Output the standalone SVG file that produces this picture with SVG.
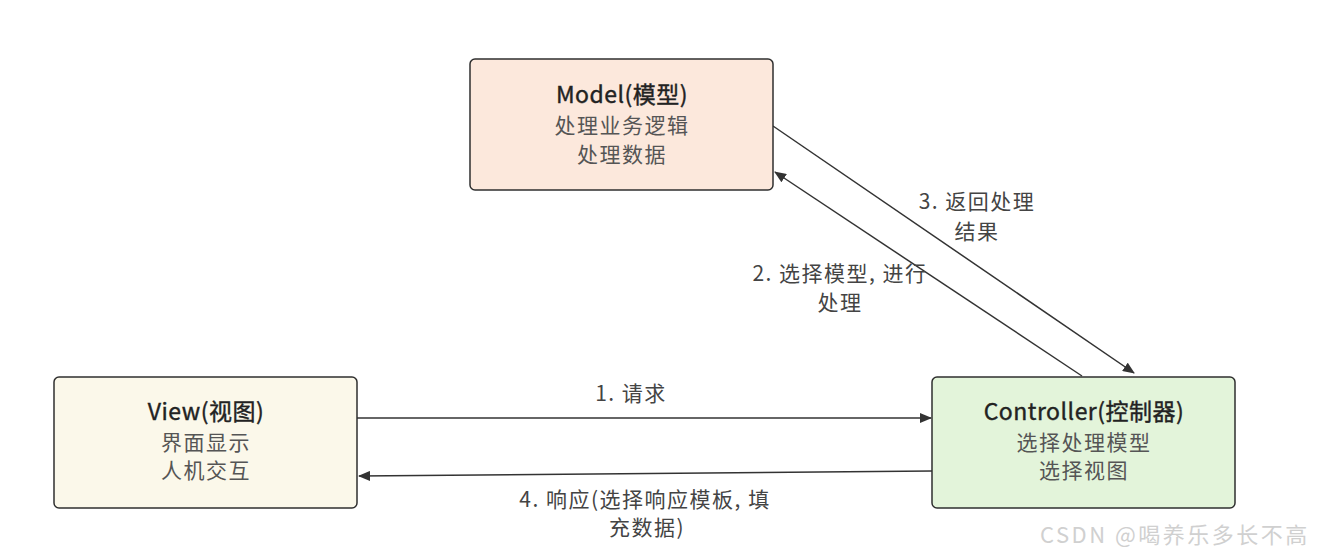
<svg xmlns="http://www.w3.org/2000/svg" width="1317" height="556" viewBox="0 0 1317 556">
  <style>
    .box { stroke: #2f2f2f; stroke-width: 1.5; }
    .title { font-family: "Noto Sans CJK SC", "Noto Sans", sans-serif; font-size: 23px; font-weight: 400; fill: #222; stroke: #222; stroke-width: 0.4; text-anchor: middle; letter-spacing: 0.5px; }
    .body { font-family: "Noto Sans CJK SC", "Noto Sans", sans-serif; font-size: 21px; fill: #555; text-anchor: middle; letter-spacing: 1.5px; }
    .edge { stroke: #333; stroke-width: 1.5; fill: none; marker-end: url(#arrow); }
    .lbl { font-family: "Noto Sans CJK SC", "Noto Sans", sans-serif; font-size: 21px; fill: #444; text-anchor: middle; letter-spacing: 1.5px; }
    .mark { font-family: "Noto Sans CJK SC", "Noto Sans", sans-serif; font-size: 22px; fill: #d0d0d0; letter-spacing: 2.5px; }
  </style>
  <defs>
    <marker id="arrow" viewBox="0 0 12 10" refX="11" refY="5" markerWidth="12" markerHeight="10" markerUnits="userSpaceOnUse" orient="auto">
      <path d="M0,0 L12,5 L0,10 z" fill="#333"/>
    </marker>
  </defs>
  <rect width="1317" height="556" fill="#fff"/>

  <g id="connectors">
    <line class="edge" x1="357" y1="418" x2="931" y2="418"/>
    <line class="edge" x1="932" y1="471" x2="359" y2="476"/>
    <line class="edge" x1="1082" y1="376" x2="775" y2="172"/>
    <line class="edge" x1="773" y1="126" x2="1134" y2="373"/>
  </g>

  <g id="edge-labels">
    <text class="lbl" x="631" y="401">1. 请求</text>
    <text class="lbl" x="840" y="281">2. 选择模型, 进行</text>
    <text class="lbl" x="840" y="310">处理</text>
    <text class="lbl" x="977" y="209">3. 返回处理</text>
    <text class="lbl" x="977" y="239">结果</text>
    <text class="lbl" x="645" y="507">4. 响应(选择响应模板, 填</text>
    <text class="lbl" x="647" y="535">充数据)</text>
  </g>

  <g id="model">
    <rect class="box" x="470" y="59" width="303" height="131" rx="5" fill="#fce8dc"/>
    <text class="title" x="622" y="103">Model(模型)</text>
    <text class="body" x="622" y="133">处理业务逻辑</text>
    <text class="body" x="622" y="162">处理数据</text>
  </g>

  <g id="view">
    <rect class="box" x="54" y="377" width="303" height="131" rx="5" fill="#fbf8ea"/>
    <text class="title" x="206" y="420">View(视图)</text>
    <text class="body" x="206" y="450">界面显示</text>
    <text class="body" x="206" y="478">人机交互</text>
  </g>

  <g id="controller">
    <rect class="box" x="932" y="377" width="303" height="131" rx="5" fill="#e3f4da"/>
    <text class="title" x="1084" y="420">Controller(控制器)</text>
    <text class="body" x="1084" y="450">选择处理模型</text>
    <text class="body" x="1084" y="478">选择视图</text>
  </g>

  <text class="mark" x="1040" y="543">CSDN @喝养乐多长不高</text>
</svg>
